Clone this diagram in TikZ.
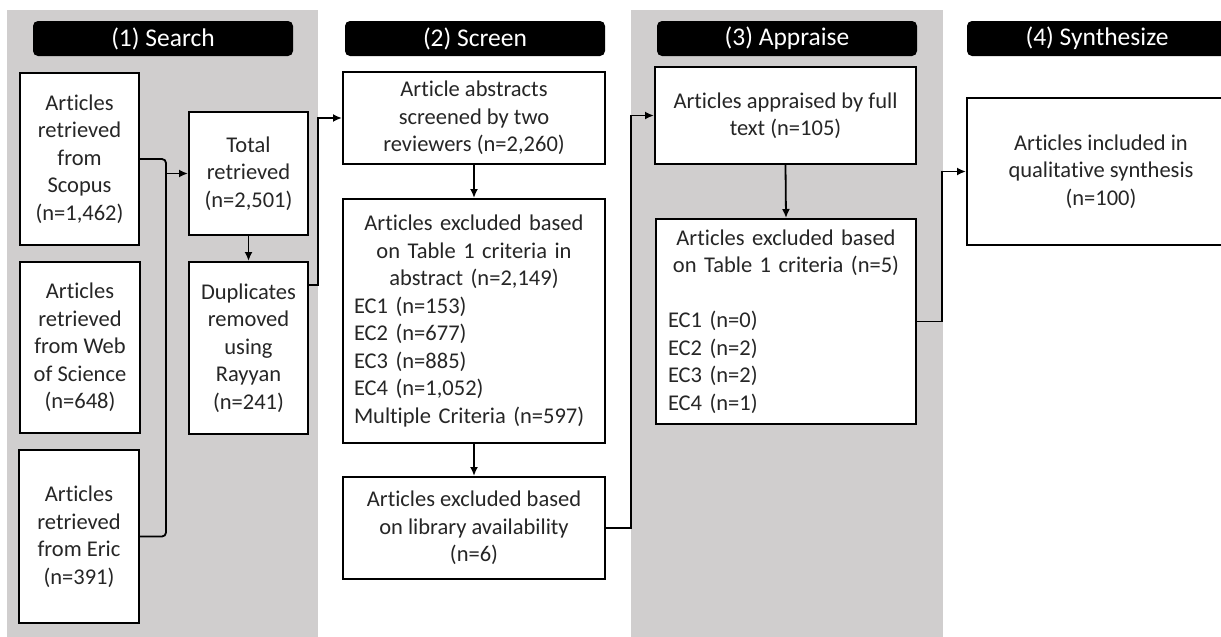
\documentclass[tikz,border=0pt]{standalone}
\usepackage{fontspec}
\setmainfont{Carlito}[Ligatures={NoCommon,NoContextual},RawFeature={-liga;-clig;-calt;-dlig}]
\usetikzlibrary{arrows.meta,calc}
\definecolor{panelgray}{RGB}{208,206,206}
\definecolor{txt}{RGB}{38,38,38}
\tikzset{
  box/.style={draw=black, fill=white, line width=2pt, align=center, text=txt,
    inner sep=0pt, font=\fontsize{22.5}{27.5}\selectfont},
  hdr/.style={fill=black, rounded corners=5pt, text=white, inner sep=0pt,
    minimum width=260pt, minimum height=35pt, font=\fontsize{25.5}{30}\selectfont},
  link/.style={draw=black, line width=1.8pt},
  arr/.style={link, -{Latex[length=9pt,width=8pt]}},
}
\begin{document}
\begin{tikzpicture}[x=1pt,y=-1pt]
\useasboundingbox (0,0) rectangle (1221,637);
\fill[white] (0,0) rectangle (1221,637);
% panels
\fill[panelgray] (7,10) rectangle (318,637);
\fill[panelgray] (631,10) rectangle (943,637);
% headers
\node[hdr] (h1) at (163,38.5) {(1) Search};
\node[hdr] (h2) at (475,38.5) {(2) Screen};
\node[hdr] (h3) at (787,38.5) {(3) Appraise};
\begin{scope}
\clip (0,0) rectangle (1221,637);
\node[hdr] (h4) at (1097,38.5) {(4) Synthesize};
\node[box, minimum width=268pt, minimum height=147pt] (syn) at (1101,171.5)
  {Articles included in\\qualitative synthesis\\(n=100)};
\end{scope}
% column 1
\node[box, minimum width=119pt, minimum height=172pt] (scopus) at (79.5,159)
  {Articles\\retrieved\\from\\Scopus\\(n=1,462)};
\node[box, minimum width=120pt, minimum height=171pt] (wos) at (80,347.5)
  {Articles\\retrieved\\from Web\\of Science\\(n=648)};
\node[box, minimum width=120pt, minimum height=173pt] (eric) at (79,536.5)
  {Articles\\retrieved\\from Eric\\(n=391)};
\node[box, minimum width=119pt, minimum height=123pt] (total) at (248.5,173.5)
  {Total\\retrieved\\(n=2,501)};
\node[box, minimum width=119pt, minimum height=172pt] (dup) at (248.5,348)
  {Duplicates\\removed\\using\\Rayyan\\(n=241)};
% column 2
\node[box, minimum width=262pt, minimum height=92pt] (abs) at (474,118)
  {Article abstracts\\screened by two\\reviewers (n=2,260)};
\node[box, minimum width=262pt, minimum height=244pt, text width=240pt] (exc) at (474,321)
  {\centering Articles excluded based\\on Table 1 criteria in\\abstract (n=2,149)\par
   \raggedright EC1 (n=153)\\EC2 (n=677)\\EC3 (n=885)\\EC4 (n=1,052)\\Multiple Criteria (n=597)\par};
\node[box, minimum width=262pt, minimum height=102pt] (lib) at (474,528)
  {Articles excluded based\\on library availability\\(n=6)};
% column 3
\node[box, minimum width=261pt, minimum height=97pt] (app) at (785.5,115.5)
  {Articles appraised by full\\text (n=105)};
\node[box, minimum width=260pt, minimum height=205pt, text width=236pt] (exc3) at (786,321.5)
  {\centering Articles excluded based\\on Table 1 criteria (n=5)\par
   \vspace{27.5pt}\raggedright EC1 (n=0)\\EC2 (n=2)\\EC3 (n=2)\\EC4 (n=1)\par};
% connectors
\coordinate (bus) at (166,400);
\draw[link, rounded corners=4pt] (scopus.east) -| (bus) |- (eric.east);
\draw[arr] (bus |- total.west) -- (total.west);
\draw[arr] (total.south) -- (dup.north);
\coordinate (c2) at (318,200);
\coordinate (dupout) at ($(dup.north east)!0.14!(dup.south east)$);
\draw[arr] (dupout) -| (c2) |- (abs.west);
\draw[arr] (abs.south) -- (exc.north);
\draw[arr] (exc.south) -- (lib.north);
\coordinate (c3) at (631,300);
\draw[arr] (lib.east) -| (c3) |- (app.west);
\draw[arr] (app.south) -- (exc3.north);
\coordinate (c4) at (942,250);
\draw[arr] (exc3.east) -| (c4) |- (syn.west);
\end{tikzpicture}
\end{document}
